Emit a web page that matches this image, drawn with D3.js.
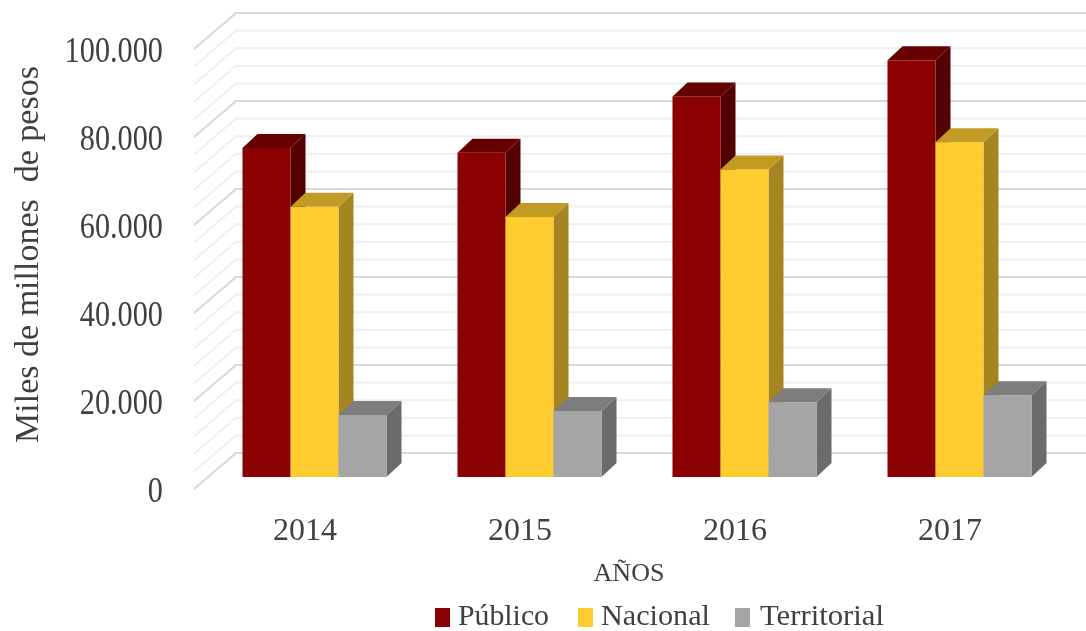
<!DOCTYPE html>
<html><head><meta charset="utf-8">
<script src="https://cdnjs.cloudflare.com/ajax/libs/d3/7.8.5/d3.min.js"></script>
<style>html,body{margin:0;padding:0;background:#fff;overflow:hidden}svg{display:block;filter:blur(0.5px)}text{font-family:"Liberation Serif",serif;fill:#404040;white-space:pre}</style>
</head><body><svg id="c" width="1086" height="631"></svg>
<script>
const years=["2014","2015","2016","2017"];
const seriesNames=["Público","Nacional","Territorial"];
const publico=[74800,73700,86500,94700];
const nacional=[61400,59100,69900,76100];
const territorial=[14100,15000,17000,18600];
const yTicks=[0,20000,40000,60000,80000,100000];
const tickLabels=["0","20.000","40.000","60.000","80.000","100.000"];
const minorStep=4000;
const colors=[{f:"#8b0000",t:"#660000",s:"#520000"},{f:"#ffcc2f",t:"#c29b24",s:"#a5851f"},{f:"#a5a5a5",t:"#7d7d7d",s:"#6b6b6b"}];
const values=[publico,nacional,territorial];

const svg=d3.select("#c");
const dx=42,dy=36;
const y=d3.scaleLinear().domain([0,100000]).range([489,49]);
const x0=d3.scaleBand().domain(years).range([207,1067]);
const barW=48, bdx=15, bdy=14, floorShift=12;
const bar=(cat,i)=>x0(cat)+x0.step()/2-1.5*barW+i*barW;

const minor=d3.range(0,100001,minorStep);
const g=svg.append("g").attr("fill","none");
minor.forEach(v=>{
  const major=v%20000===0;
  const c=major?"#d9d9d9":"#efefef",w=major?2.2:2;
  g.append("path").attr("stroke",c).attr("stroke-width",w)
   .attr("d",`M${194},${y(v)}L${194+dx},${y(v)-dy}L1086,${y(v)-dy}`);
});

years.forEach((yr,ci)=>{
  seriesNames.forEach((s,si)=>{
    const v=values[si][ci],X=bar(yr,si),top=y(v)-floorShift,bot=y(0)-floorShift,c=colors[si];
    const b=svg.append("g");
    b.append("path").attr("fill",c.s).attr("d",`M${X+barW},${top}L${X+barW+bdx},${top-bdy}L${X+barW+bdx},${bot-bdy}L${X+barW},${bot}Z`);
    b.append("path").attr("fill",c.t).attr("d",`M${X},${top}L${X+bdx},${top-bdy}L${X+barW+bdx},${top-bdy}L${X+barW},${top}Z`);
    b.append("rect").attr("fill",c.f).attr("x",X).attr("y",top).attr("width",barW).attr("height",bot-top);
  });
});

svg.append("g").selectAll("text").data(yTicks).join("text")
  .attr("transform",d=>`translate(163,${y(d)+13}) scale(.865,1)`).attr("text-anchor","end")
  .style("font-size","35px").text((d,i)=>tickLabels[i]);
svg.append("g").selectAll("text").data(years).join("text")
  .attr("x",d=>x0(d)+x0.step()/2-9.5).attr("y",540).attr("text-anchor","middle")
  .style("font-size","32px").text(d=>d);
svg.append("text").attr("transform","translate(38,254.5) rotate(-90)").attr("text-anchor","middle")
  .style("font-size","34px").text("Miles de millones  de pesos");
svg.append("text").attr("x",629).attr("y",581).attr("text-anchor","middle").style("font-size","26px").text("AÑOS");
const lx=[435,578,735],tx=[458,601,760],tw=[91,109,124];
seriesNames.forEach((s,i)=>{
  svg.append("rect").attr("x",lx[i]).attr("y",608).attr("width",15).attr("height",19).attr("fill",colors[i].f);
  svg.append("text").attr("x",tx[i]).attr("y",624.5).attr("textLength",tw[i]).attr("lengthAdjust","spacingAndGlyphs").style("font-size","30px").text(s);
});
</script></body></html>
